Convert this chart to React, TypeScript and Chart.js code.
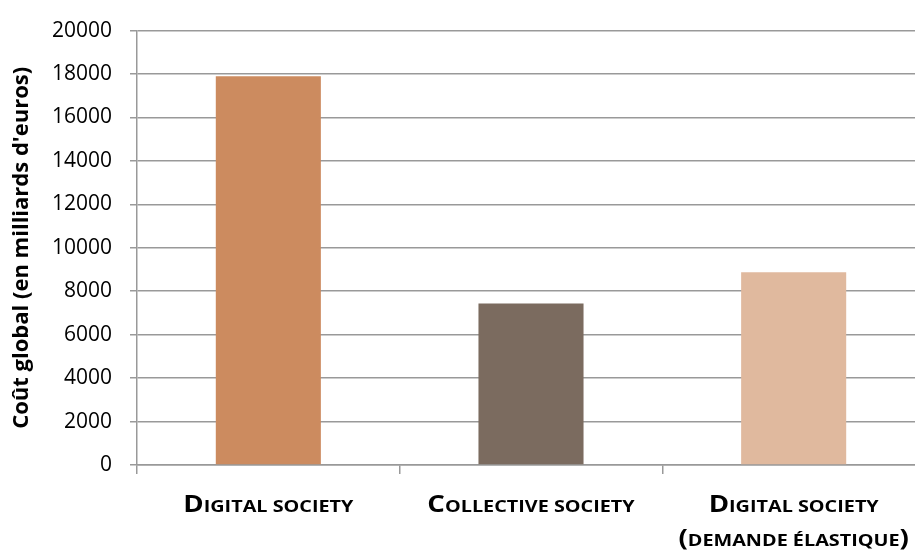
import React, { useEffect, useRef } from "react";
import { Chart, registerables } from "chart.js";

Chart.register(...registerables);

const categories: string[][] = [
  ["Digital society"],
  ["Collective society"],
  ["Digital society", "(demande élastique)"],
];
const values = [17900, 7430, 8870];
const barColors = ["#CC8B5F", "#7B6B5F", "#E0B99E"];
const yTitle = "Coût global (en milliards d'euros)";
const yMin = 0;
const yMax = 20000;
const yStep = 2000;

const FAMILY = "'Open Sans'";
const BIG = 23;
const SMALL = 16.5;
const STRETCH = 1.2;

function segments(text: string) {
  const segs: { t: string; small: boolean }[] = [];
  for (const ch of text) {
    const small = ch !== ch.toUpperCase() || ch === " ";
    const last = segs[segs.length - 1];
    const t = ch.toUpperCase();
    if (last && last.small === small) last.t += t;
    else segs.push({ t, small });
  }
  return segs;
}

const smallCapsLabels = {
  id: "smallCapsLabels",
  afterDraw(chart: any) {
    const ctx = chart.ctx as CanvasRenderingContext2D;
    const xs = chart.scales.x;
    ctx.save();
    ctx.fillStyle = "#000";
    ctx.textBaseline = "alphabetic";
    ctx.textAlign = "left";
    categories.forEach((lines, i) => {
      const cx = xs.getPixelForValue(i);
      lines.forEach((line, li) => {
        const segs = segments(line);
        let w = 0;
        const widths = segs.map((s) => {
          ctx.font = `bold ${s.small ? SMALL : BIG}px ${FAMILY}`;
          const m = ctx.measureText(s.t).width * STRETCH;
          w += m;
          return m;
        });
        let x = cx - w / 2;
        const y = 512 + li * 34;
        segs.forEach((s, k) => {
          ctx.font = `bold ${s.small ? SMALL : BIG}px ${FAMILY}`;
          ctx.save();
          ctx.translate(x, y);
          ctx.scale(STRETCH, 1);
          ctx.fillText(s.t, 0, 0);
          ctx.restore();
          x += widths[k];
        });
      });
    });
    ctx.restore();
  },
};

export default function App() {
  const ref = useRef<HTMLCanvasElement>(null);
  useEffect(() => {
    if (!ref.current) return;
    const gray = "#999999";
    const chart = new Chart(ref.current, {
      type: "bar",
      data: {
        labels: categories.map((l) => l.join(" ")),
        datasets: [
          {
            data: values,
            backgroundColor: barColors,
            borderWidth: 0,
            barPercentage: 0.4,
            categoryPercentage: 1,
          },
        ],
      },
      plugins: [smallCapsLabels],
      options: {
        responsive: false,
        animation: false,
        events: [],
        layout: { padding: { left: 0, top: 27, right: 10, bottom: 0 } },
        plugins: { legend: { display: false }, tooltip: { enabled: false } },
        scales: {
          x: {
            offset: true,
            grid: {
              offset: true,
              drawOnChartArea: false,
              drawTicks: true,
              tickLength: 9,
              color: gray,
              lineWidth: 1.5,
            },
            border: { display: true, color: gray, width: 1.5 },
            ticks: {
              display: false,
            },
            afterFit: (s: any) => {
              s.height = 86;
            },
          },
          y: {
            min: yMin,
            max: yMax,
            ticks: {
              stepSize: yStep,
              color: "#000",
              padding: 18,
              font: { family: FAMILY, size: 21 },
              callback: (v: any) => String(v),
            },
            grid: {
              color: gray,
              lineWidth: 1.5,
              drawTicks: true,
              tickLength: 7,
            },
            border: { display: true, color: gray, width: 1.5 },
            title: {
              display: true,
              text: yTitle,
              color: "#000",
              padding: { top: 9, bottom: 0 },
              font: { family: FAMILY, size: 22, weight: "bold", lineHeight: 1.2 },
            },
            afterFit: (s: any) => {
              s.width = 137;
            },
          },
        },
      },
    });
    return () => chart.destroy();
  }, []);
  return (
    <div
      style={{
        position: "absolute",
        left: 0,
        top: 0,
        width: 915,
        height: 551,
        overflow: "hidden",
        background: "#fff",
      }}
    >
      <canvas ref={ref} width={935} height={551} style={{ display: "block" }} />
    </div>
  );
}
